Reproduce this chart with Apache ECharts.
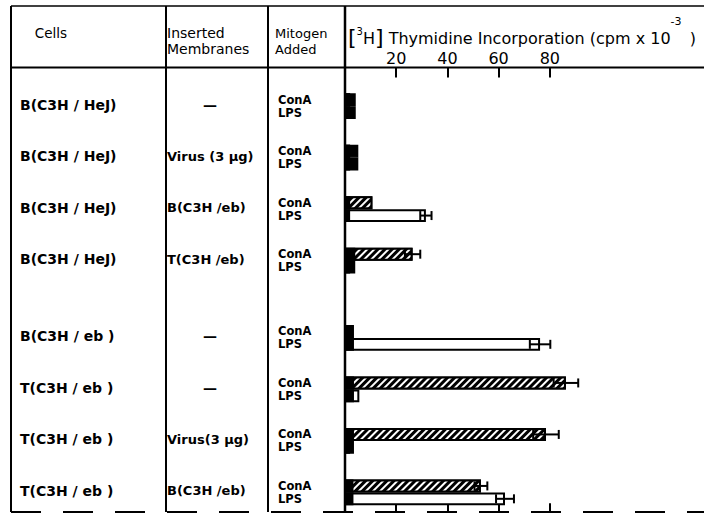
<!DOCTYPE html>
<html><head><meta charset="utf-8">
<script src="https://cdn.jsdelivr.net/npm/echarts@6/dist/echarts.min.js"></script>
<style>html,body{margin:0;padding:0;background:#fff}#c{width:704px;height:521px}</style>
</head><body><div id="c"></div>
<script>
// ---- data ----
const cells = ['B(C3H / HeJ)','B(C3H / HeJ)','B(C3H / HeJ)','B(C3H / HeJ)','B(C3H / eb )','T(C3H / eb )','T(C3H / eb )','T(C3H / eb )'];
const membranes = ['—','Virus (3 μg)','B(C3H /eb)','T(C3H /eb)','—','—','Virus(3 μg)','B(C3H /eb)'];
const mitogens = ['ConA','LPS'];
const background = [4.2, 5.2, 2.0, 4.0, 3.5, 3.5, 3.5, 3.3];
const conA    = [2, 2, 10.7, 26.4, 2, 86.3, 78.5, 53.1];
const conAErr = [0, 0, 0, 3.0, 0, 4.8, 5.0, 2.5];
const lps     = [2, 2, 31.6, 2, 76.2, 5.6, 2, 62.5];
const lpsErr  = [0, 0, 2.2, 0, 4.0, 0, 0, 3.5];
const ticks = [20, 40, 60, 80];
const headCells = 'Cells';
const headMembranes = ['Inserted', 'Membranes'];
const headMitogen = ['Mitogen', 'Added'];
const titleParts = ['[', '3', 'H', ']', ' Thymidine Incorporation (cpm x 10', '-3', ' )'];

// ---- slot layout (quarter-group category slots) ----
const slots = ['pad0'];
const conASlot = [], lpsSlot = [];
cells.forEach((c, g) => {
  if (g === 4) { slots.push('gapA', 'gapB'); }
  slots.push('padL' + g);
  conASlot.push(slots.length); slots.push('conA' + g);
  lpsSlot.push(slots.length); slots.push('lps' + g);
  if (g < cells.length - 1) slots.push('padR' + g);
});

const N = slots.length;
const conAData = new Array(N).fill(null);
const lpsData = new Array(N).fill(null);
const bgData = new Array(N).fill(null);
const errData = [];
cells.forEach((c, g) => {
  conAData[conASlot[g]] = conA[g];
  lpsData[lpsSlot[g]] = lps[g];
  bgData[conASlot[g]] = background[g];
  bgData[lpsSlot[g]] = background[g];
  if (conAErr[g] > 0) errData.push([conA[g] - conAErr[g], conA[g] + conAErr[g], conASlot[g]]);
  if (lpsErr[g] > 0) errData.push([lps[g] - lpsErr[g], lps[g] + lpsErr[g], lpsSlot[g]]);
});

const FONT = 'DejaVu Sans';
const SLOT = 12.875;
const chart = echarts.init(document.getElementById('c'), null, {renderer: 'svg'});

chart.setOption({
  animation: false,
  backgroundColor: '#fff',
  grid: {left: 345, top: 67.5, width: 358.4, height: SLOT * N, containLabel: false},
  xAxis: [{
    type: 'value', position: 'top', min: 0, max: 140, interval: 20,
    axisLine: {show: false}, splitLine: {show: false},
    axisTick: {show: true, inside: true, length: 10, customValues: ticks, lineStyle: {color: '#000', width: 2}},
    axisLabel: {show: true, customValues: ticks, margin: 1, color: '#000', fontSize: 16, fontFamily: FONT}
  }, {
    type: 'value', position: 'bottom', offset: 6, min: 0, max: 140, interval: 20,
    axisLine: {show: false}, splitLine: {show: false},
    axisTick: {show: true, inside: true, length: 8, customValues: ticks, lineStyle: {color: '#000', width: 2}},
    axisLabel: {show: false}
  }],
  yAxis: {
    type: 'category', inverse: true, data: slots,
    axisLine: {show: false}, axisTick: {show: false}, axisLabel: {show: false}, splitLine: {show: false}
  },
  series: [{
    type: 'bar', name: 'ConA', data: conAData, barWidth: '100%', barGap: '-100%', z: 2, silent: true,
    itemStyle: {color: '#000', borderColor: '#000', borderWidth: 2,
      decal: {symbol: 'rect', symbolSize: 1, color: '#fff', dashArrayX: [1, 0], dashArrayY: [1.6, 2.6], rotation: -Math.PI / 4}}
  }, {
    type: 'bar', name: 'LPS', data: lpsData, barWidth: '100%', barGap: '-100%', z: 2, silent: true,
    itemStyle: {color: '#fff', borderColor: '#000', borderWidth: 2}
  }, {
    type: 'bar', name: 'No mitogen', data: bgData, barWidth: '100%', barGap: '-100%', z: 3, silent: true,
    itemStyle: {color: '#000', borderColor: '#000', borderWidth: 1.5}
  }, {
    type: 'custom', name: 'SE', data: errData, z: 4, silent: true,
    encode: {x: [0, 1], y: 2},
    renderItem: function (params, api) {
      const y = api.value(2);
      const p0 = api.coord([api.value(0), y]);
      const p1 = api.coord([api.value(1), y]);
      const c = 4.5, st = {stroke: '#000', lineWidth: 2};
      return {type: 'group', children: [
        {type: 'line', shape: {x1: p0[0], y1: p0[1], x2: p1[0], y2: p1[1]}, style: st},
        {type: 'line', shape: {x1: p0[0], y1: p0[1] - c, x2: p0[0], y2: p0[1] + c}, style: st},
        {type: 'line', shape: {x1: p1[0], y1: p1[1] - c, x2: p1[0], y2: p1[1] + c}, style: st}
      ]};
    }
  }]
});

// ---- table frame and texts placed through the axes ----
const ctx = document.createElement('canvas').getContext('2d');
function measure(t, size, weight) { ctx.font = (weight || 'normal') + ' ' + size + 'px "' + FONT + '"'; return ctx.measureText(t).width; }
function txt(t, x, y, size, weight, align) {
  return {type: 'text', x: x, y: y, silent: true, z: 10,
    style: {text: t, fill: '#000', fontSize: size, fontFamily: FONT, fontWeight: weight || 'normal', align: align || 'left', verticalAlign: 'middle'}};
}
function ln(x1, y1, x2, y2, w, dash) {
  return {type: 'line', silent: true, z: 9, shape: {x1, y1, x2, y2}, style: {stroke: '#000', lineWidth: w, lineDash: dash || null}};
}

const x0 = chart.convertToPixel({xAxisIndex: 0}, 0);
const gy = cells.map((c, g) => (chart.convertToPixel({yAxisIndex: 0}, conASlot[g]) + chart.convertToPixel({yAxisIndex: 0}, lpsSlot[g])) / 2);
const topY = 6, headY = 67.5, botY = 512;
const colX = [11, 166, 268];

const g = [];
g.push(ln(colX[0], topY, 704, topY, 1.5));
g.push(ln(colX[0], headY, 704, headY, 2));
g.push(ln(colX[0], botY, 704, botY, 2, [30, 22]));
colX.forEach(x => g.push(ln(x, topY, x, botY, 2)));
g.push(ln(x0, topY, x0, botY, 2.5));

g.push(txt(headCells, 51, 33, 13.5, 'normal', 'center'));
g.push(txt(headMembranes[0], 167, 33, 14));
g.push(txt(headMembranes[1], 167, 49, 14));
g.push(txt(headMitogen[0], 275, 33, 13));
g.push(txt(headMitogen[1], 275, 49, 13));

// title pieces
const tSizes = [22, 10, 16, 22, 16, 11, 16];
const tY = [37, 31, 38, 37, 38, 21, 38];
let tx = 348;
titleParts.forEach((p, i) => {
  g.push(txt(p, tx, tY[i], tSizes[i]));
  tx += measure(p, tSizes[i]) + (i === 5 ? 3 : 0);
});

cells.forEach((c, i) => {
  const y = gy[i] - 1.5;
  g.push(txt(c, 20, y, 14, 'bold'));
  if (membranes[i] === '—') g.push(txt(membranes[i], 210, y, 14, 'bold', 'center'));
  else g.push(txt(membranes[i], 167, y, 13, 'bold'));
  g.push(txt(mitogens[0], 278, gy[i] - 6.5, 11.5, 'bold'));
  g.push(txt(mitogens[1], 278, gy[i] + 6.5, 11.5, 'bold'));
});

chart.setOption({graphic: g});
</script>
</body></html>
